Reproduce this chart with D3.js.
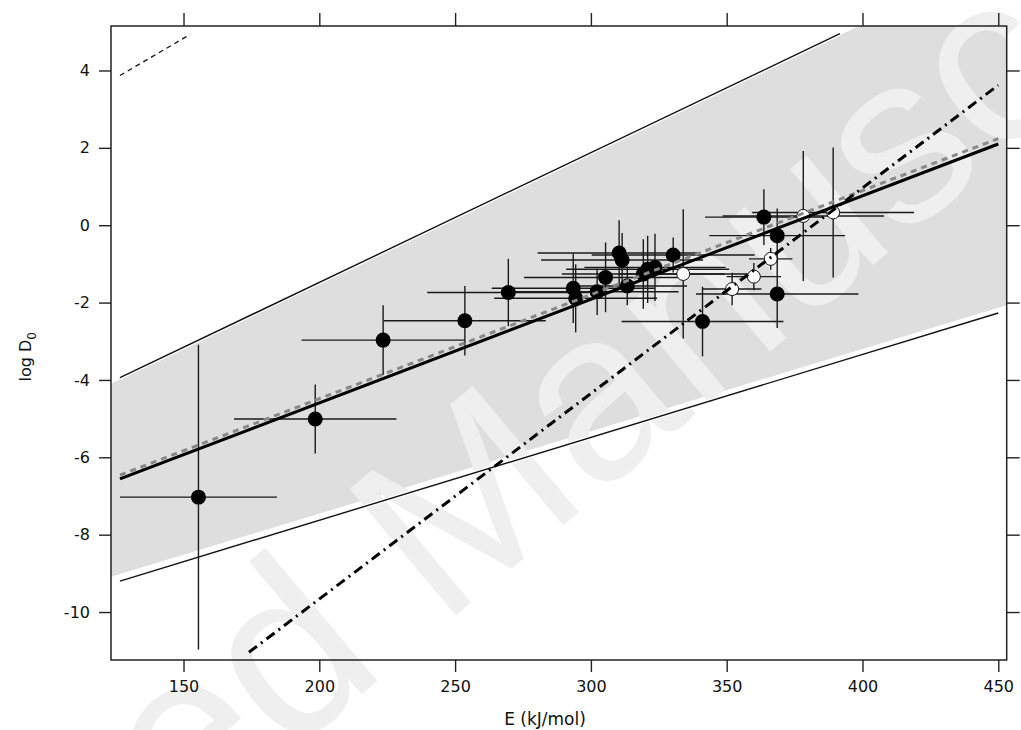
<!DOCTYPE html>
<html>
<head>
<meta charset="utf-8">
<script src="https://cdn.jsdelivr.net/npm/d3@7"></script>
<style>
  body { margin: 0; background: #fff; }
  svg { display: block; }
</style>
</head>
<body>
<div id="wrapper"></div>
<script>
// tick values
const xTicks = [150, 200, 250, 300, 350, 400, 450]
const yTicks = [4, 2, 0, -2, -4, -6, -8, -10]

// filled symbols: E, log D0 and half error bars
const filledE    = [155.5, 198.5, 223.5, 253.6, 269.6, 293.5, 294.4, 302.3, 305.4, 310.4, 311.5, 313.4, 319.3, 320.9, 323.6, 330.3, 341.1, 363.7, 368.6, 368.6]
const filledD    = [-7.03, -5.01, -2.97, -2.47, -1.74, -1.63, -1.89, -1.72, -1.35, -0.72, -0.90, -1.57, -1.26, -1.14, -1.09, -0.77, -2.49, 0.21, -0.27, -1.78]
const filledEErr = [28.9, 29.9, 30.0, 29.8, 29.9, 30.0, 30.0, 30.0, 30.0, 30.0, 29.8, 22.0, 30.0, 30.0, 26.0, 30.0, 29.8, 21.7, 25.0, 29.9]
const filledDErr = [3.94, 0.89, 0.90, 0.90, 0.87, 0.90, 0.88, 0.60, 0.90, 0.85, 0.70, 0.50, 0.90, 0.87, 0.87, 0.45, 0.90, 0.72, 0.70, 0.88]

// open symbols
const openE    = [334.0, 352.0, 360.0, 366.2, 378.2, 389.2]
const openD    = [-1.26, -1.65, -1.33, -0.87, 0.24, 0.33]
const openEErr = [23.5, 10.8, 10.0, 8.0, 29.7, 29.8]
const openDErr = [1.67, 0.42, 0.35, 0.28, 1.68, 1.68]

// shaded band
const bandE     = [123.3, 453.1]
const bandUpper = [-4.09, 6.97]
const bandLower = [-9.09, -2.07]

// lines
const fitE    = [126.6, 450],   fitD    = [-6.56, 2.10]
const fit2E   = [126.6, 450],   fit2D   = [-6.46, 2.24]
const steepE  = [174.1, 450],   steepD  = [-11.04, 3.62]
const upperE  = [126.6, 391.7], upperD  = [-3.94, 4.95]
const lowerE  = [126.6, 450],   lowerD  = [-9.20, -2.27]
const shortE  = [126.6, 152.4], shortD  = [3.87, 4.93]

const FONT = "'DejaVu Sans', Verdana, sans-serif"

function drawChart() {
    const dimensions = {
        width: 1021,
        height: 730,
        margin: { top: 26, right: 14.3, bottom: 70, left: 111 },
    }
    dimensions.boundedWidth = dimensions.width - dimensions.margin.left - dimensions.margin.right
    dimensions.boundedHeight = dimensions.height - dimensions.margin.top - dimensions.margin.bottom

    const svg = d3.select("#wrapper")
        .html("")
        .append("svg")
        .attr("width", dimensions.width)
        .attr("height", dimensions.height)
        .style("font-family", FONT)

    const xScaler = d3.scaleLinear()
        .domain([123.3, 453.1])
        .range([dimensions.margin.left, dimensions.width - dimensions.margin.right])
    const yScaler = d3.scaleLinear()
        .domain([-11.24, 5.15])
        .range([dimensions.height - dimensions.margin.bottom, dimensions.margin.top])

    svg.append("clipPath").attr("id", "plotclip")
        .append("rect")
        .attr("x", dimensions.margin.left)
        .attr("y", dimensions.margin.top)
        .attr("width", dimensions.boundedWidth)
        .attr("height", dimensions.boundedHeight)

    // band
    const bandPts = bandE.map((e, i) => [xScaler(e), yScaler(bandUpper[i])])
        .concat(bandE.map((e, i) => [xScaler(e), yScaler(bandLower[i])]).reverse())
    svg.append("g").attr("clip-path", "url(#plotclip)")
        .append("polygon")
        .attr("points", bandPts.map(p => p.join(",")).join(" "))
        .attr("fill", "#dedede")

    // watermark, under the marks
    svg.append("text")
        .attr("transform", "translate(-377,1314) rotate(-40)")
        .attr("font-size", 240)
        .attr("font-family", "'Liberation Sans', Arial, sans-serif")
        .attr("fill", "#efefef")
        .text("Accepted Manuscript")

    const plot = svg.append("g").attr("clip-path", "url(#plotclip)")

    const line = d3.line().x(d => xScaler(d[0])).y(d => yScaler(d[1]))
    const seg = (es, ds) => es.map((e, i) => [e, ds[i]])

    // thin bounding lines with white halo
    for (const [es, ds] of [[upperE, upperD], [lowerE, lowerD]]) {
        plot.append("path").attr("d", line(seg(es, ds)))
            .attr("stroke", "#fff").attr("stroke-width", 4).attr("fill", "none")
        plot.append("path").attr("d", line(seg(es, ds)))
            .attr("stroke", "#111").attr("stroke-width", 1.4).attr("fill", "none")
    }
    plot.append("path").attr("d", line(seg(shortE, shortD)))
        .attr("stroke", "#111").attr("stroke-width", 1.3)
        .attr("stroke-dasharray", "5,4").attr("fill", "none")

    // error bars
    const bars = plot.append("g").attr("stroke", "#1a1a1a").attr("stroke-width", 1.4)
    const allE = filledE.concat(openE), allD = filledD.concat(openD)
    const allEE = filledEErr.concat(openEErr), allDE = filledDErr.concat(openDErr)
    bars.selectAll("line.h").data(allE).enter().append("line")
        .attr("x1", (d, i) => xScaler(d - allEE[i]))
        .attr("x2", (d, i) => xScaler(d + allEE[i]))
        .attr("y1", (d, i) => yScaler(allD[i]))
        .attr("y2", (d, i) => yScaler(allD[i]))
    bars.selectAll("line.v").data(allE).enter().append("line")
        .attr("x1", d => xScaler(d))
        .attr("x2", d => xScaler(d))
        .attr("y1", (d, i) => yScaler(allD[i] - allDE[i]))
        .attr("y2", (d, i) => yScaler(allD[i] + allDE[i]))

    // points
    plot.append("g").selectAll("circle").data(filledE).enter().append("circle")
        .attr("cx", d => xScaler(d))
        .attr("cy", (d, i) => yScaler(filledD[i]))
        .attr("r", 7.5)
        .attr("fill", "#000")
    plot.append("g").selectAll("circle").data(openE).enter().append("circle")
        .attr("cx", d => xScaler(d))
        .attr("cy", (d, i) => yScaler(openD[i]))
        .attr("r", 6.5)
        .attr("fill", "#fff")
        .attr("stroke", "#111")
        .attr("stroke-width", 1)

    // fitted lines
    plot.append("path").attr("d", line(seg(fit2E, fit2D)))
        .attr("stroke", "#888").attr("stroke-width", 3)
        .attr("stroke-dasharray", "6,5").attr("fill", "none")
    plot.append("path").attr("d", line(seg(fitE, fitD)))
        .attr("stroke", "#000").attr("stroke-width", 3).attr("fill", "none")
    plot.append("path").attr("d", line(seg(steepE, steepD)))
        .attr("stroke", "#000").attr("stroke-width", 3)
        .attr("stroke-dasharray", "10,5,2,5").attr("fill", "none")

    // axes
    const bottom = dimensions.height - dimensions.margin.bottom
    const right = dimensions.width - dimensions.margin.right
    const xAxisGen = d3.axisBottom(xScaler).tickValues(xTicks).tickSize(12).tickSizeOuter(0).tickPadding(9)
    const xAxis = svg.append("g").attr("transform", `translate(0,${bottom})`).call(xAxisGen)
    const topAxis = svg.append("g").attr("transform", `translate(0,${dimensions.margin.top})`)
        .call(d3.axisTop(xScaler).tickValues(xTicks).tickSize(13).tickSizeOuter(0).tickFormat(""))
    const yAxisGen = d3.axisLeft(yScaler).tickValues(yTicks).tickSize(12).tickSizeOuter(0).tickPadding(9)
        .tickFormat(d => String(d))
    const yAxis = svg.append("g").attr("transform", `translate(${dimensions.margin.left},0)`).call(yAxisGen)
    const rightAxis = svg.append("g").attr("transform", `translate(${right},0)`)
        .call(d3.axisRight(yScaler).tickValues(yTicks).tickSize(13).tickSizeOuter(0).tickFormat(""))

    for (const ax of [xAxis, topAxis, yAxis, rightAxis]) {
        ax.select(".domain").remove()
        ax.selectAll(".tick line").attr("stroke", "#222").attr("stroke-width", 1.4)
        ax.selectAll("text").attr("font-size", 16).attr("fill", "#111")
            .attr("font-family", FONT)
    }

    svg.append("rect")
        .attr("x", dimensions.margin.left)
        .attr("y", dimensions.margin.top)
        .attr("width", dimensions.boundedWidth)
        .attr("height", dimensions.boundedHeight)
        .attr("fill", "none")
        .attr("stroke", "#222")
        .attr("stroke-width", 1.5)

    svg.append("text")
        .attr("x", 545)
        .attr("y", 725)
        .attr("text-anchor", "middle")
        .attr("font-size", 17)
        .attr("fill", "#111")
        .text("E (kJ/mol)")

    const yLabel = svg.append("text")
        .attr("transform", `translate(31,${yScaler(-3.4)}) rotate(-90)`)
        .attr("text-anchor", "middle")
        .attr("font-size", 16)
        .attr("fill", "#111")
    yLabel.append("tspan").text("log D")
    yLabel.append("tspan").attr("font-size", 12).attr("dy", 5).text("0")
}

drawChart()
</script>
</body>
</html>
